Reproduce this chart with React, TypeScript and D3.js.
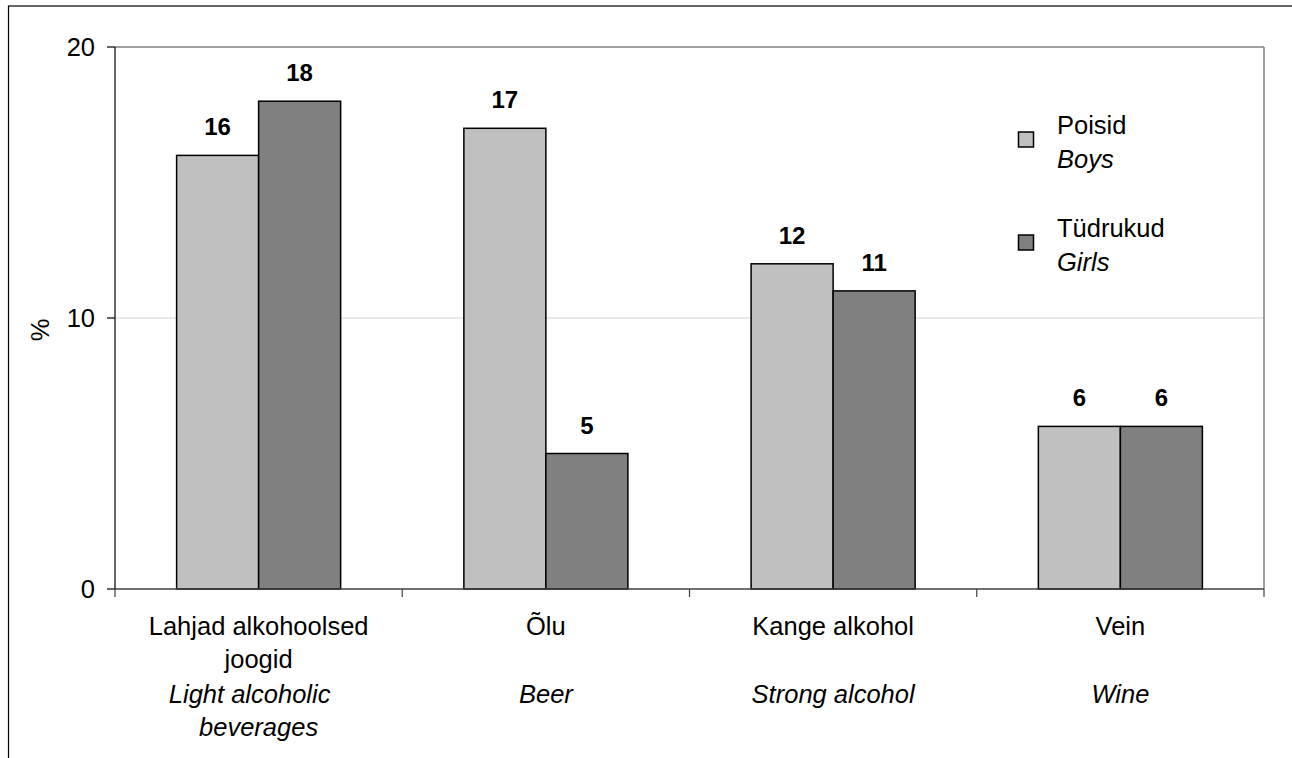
import React from "react";
import * as d3 from "d3";

const categories = ["Lahjad alkohoolsed joogid", "Õlu", "Kange alkohol", "Vein"];
const categoryLinesEt = [["Lahjad alkohoolsed", "joogid"], ["Õlu"], ["Kange alkohol"], ["Vein"]];
const categoryLinesEn = [["Light alcoholic", "beverages"], ["Beer"], ["Strong alcohol"], ["Wine"]];
const seriesKeys = ["boys", "girls"];
const seriesEt = ["Poisid", "Tüdrukud"];
const seriesEn = ["Boys", "Girls"];
const boysValues = [16, 17, 12, 6];
const girlsValues = [18, 5, 11, 6];
const yTicks = [0, 10, 20];
const colors = ["#C0C0C0", "#808080"];

const W = 1292;
const H = 758;
const left = 115;
const right = 1264;
const top = 47;
const bottom = 589;
const FONT = "'Liberation Sans', Arial, sans-serif";
const FS = 25.5;

export default function App() {
  const y = d3.scaleLinear().domain([0, 20]).range([bottom, top]);
  const x0 = d3.scaleBand<string>().domain(categories).range([left, right]).padding(0);
  const bw = x0.bandwidth();
  const x1 = d3
    .scaleBand<string>()
    .domain(seriesKeys)
    .range([bw * 0.2145, bw * 0.7855])
    .padding(0);
  const values = [boysValues, girlsValues];

  return (
    <svg
      width={W}
      height={H}
      style={{ position: "absolute", left: 0, top: 0, background: "#fff" }}
      fontFamily={FONT}
    >
      <rect x={8.5} y={6} width={1400} height={900} fill="#fff" stroke="#000" strokeWidth={1.2} />
      {/* gridline */}
      {yTicks
        .filter((t) => t !== 0 && t !== 20)
        .map((t) => (
          <line key={t} x1={left} x2={right} y1={y(t)} y2={y(t)} stroke="#d4d4d4" strokeWidth={1} />
        ))}
      {/* plot border top & right */}
      <line x1={left} x2={right} y1={y(20)} y2={y(20)} stroke="#808080" strokeWidth={1.5} />
      <line x1={right} x2={right} y1={y(20)} y2={y(0)} stroke="#808080" strokeWidth={1.5} />
      {/* bars */}
      {categories.map((c, ci) =>
        seriesKeys.map((s, si) => {
          const v = values[si][ci];
          const bx = (x0(c) as number) + (x1(s) as number);
          return (
            <g key={c + s}>
              <rect
                x={bx}
                y={y(v)}
                width={x1.bandwidth()}
                height={y(0) - y(v)}
                fill={colors[si]}
                stroke="#000"
                strokeWidth={1.5}
              />
              <text
                x={bx + x1.bandwidth() / 2}
                y={y(v) - 20}
                textAnchor="middle"
                fontWeight="bold"
                fontSize={24}
                fill="#000"
              >
                {v}
              </text>
            </g>
          );
        })
      )}
      {/* y axis */}
      <line x1={left} x2={left} y1={y(20)} y2={y(0)} stroke="#000" strokeWidth={1.2} />
      {yTicks.map((t) => (
        <g key={t}>
          <line x1={left - 8} x2={left} y1={y(t)} y2={y(t)} stroke="#000" strokeWidth={1.2} />
          <text x={left - 20} y={y(t) + 9} textAnchor="end" fontSize={FS} fill="#000">
            {t}
          </text>
        </g>
      ))}
      <text
        transform={`translate(49, ${(y(0) + y(20)) / 2 + 12}) rotate(-90)`}
        textAnchor="middle"
        fontSize={FS}
        fill="#000"
      >
        %
      </text>
      {/* x axis */}
      <line x1={left} x2={right} y1={y(0)} y2={y(0)} stroke="#404040" strokeWidth={1.5} />
      {[...categories.map((c) => x0(c) as number), right].map((xx, i) => (
        <line key={i} x1={xx} x2={xx} y1={y(0)} y2={y(0) + 8} stroke="#404040" strokeWidth={1.2} />
      ))}
      {categories.map((c, ci) => {
        const cx = (x0(c) as number) + bw / 2;
        const et = categoryLinesEt[ci];
        const en = categoryLinesEn[ci];
        return (
          <g key={c}>
            {et.map((l, li) => (
              <text key={"et" + li} x={cx} y={635 + li * 33} textAnchor="middle" fontSize={FS} fill="#000">
                {l}
              </text>
            ))}
            {en.map((l, li) => (
              <text
                key={"en" + li}
                x={cx}
                dx={en.length > 1 && li === 0 ? -9 : 0}
                y={703 + li * 33}
                textAnchor="middle"
                fontSize={FS}
                fontStyle="italic"
                fill="#000"
              >
                {l}
              </text>
            ))}
          </g>
        );
      })}
      {/* legend */}
      {seriesKeys.map((s, si) => {
        const ly = 134 + si * 103;
        return (
          <g key={s}>
            <rect x={1018.5} y={ly - 2} width={15} height={15} fill={colors[si]} stroke="#000" strokeWidth={1.5} />
            <text x={1057} y={ly} fontSize={FS} fill="#000">
              {seriesEt[si]}
            </text>
            <text x={1057} y={ly + 34} fontSize={FS} fontStyle="italic" fill="#000">
              {seriesEn[si]}
            </text>
          </g>
        );
      })}
    </svg>
  );
}
